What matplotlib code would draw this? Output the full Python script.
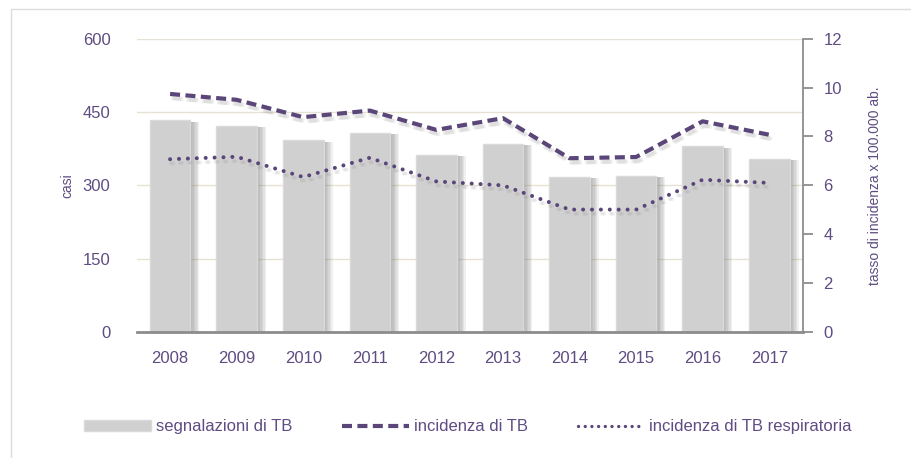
import numpy as np
import matplotlib.pyplot as plt
import matplotlib.patheffects as pe
from matplotlib.patches import Rectangle, Patch
from matplotlib.lines import Line2D

plt.rcParams['font.family'] = ['Liberation Sans', 'DejaVu Sans']

anni = ['2008', '2009', '2010', '2011', '2012', '2013', '2014', '2015', '2016', '2017']
segnalazioni = [433, 422, 392, 407, 363, 385, 317, 319, 380, 354]
incidenza = [9.74, 9.5, 8.79, 9.06, 8.27, 8.75, 7.11, 7.16, 8.62, 8.07]
incidenza_resp = [7.07, 7.17, 6.34, 7.13, 6.16, 6.0, 5.01, 5.01, 6.23, 6.1]

viola = '#5b4679'
testo = '#5e4c82'

fig = plt.figure(figsize=(9.12, 4.58), dpi=100)
fig.patches.append(Rectangle((0.012, -0.01), 1.2, 0.99, transform=fig.transFigure,
                             fill=False, edgecolor='#dcdcdc', lw=1))
ax = fig.add_axes([0.150, 0.275, 0.730, 0.6405])
ax2 = ax.twinx()
ax.set_zorder(1)
ax2.set_zorder(2)
ax.patch.set_visible(False)

x = np.arange(len(anni))
bars = ax.bar(x, segnalazioni, width=0.61, color='#d0d0d0', edgecolor='#dadada', lw=1, zorder=3)
# ombra sfumata a destra delle barre
ombra_barre = [pe.SimplePatchShadow(offset=(o, -1), shadow_rgbFace='#707070', alpha=0.1)
               for o in (1.5, 2.5, 3.5, 4.5, 5.5, 6.5)]
for b in bars:
    b.set_path_effects(ombra_barre + [pe.Normal()])

ax.set_ylim(0, 600)
ax.set_yticks([0, 150, 300, 450, 600])
ax.set_xlim(-0.5, len(anni) - 0.5)
ax.set_xticks(x)
ax.set_xticklabels(anni)
ax.grid(axis='y', color='#e6e2d3', lw=1, zorder=0)
ax.set_axisbelow(True)
for s in ['top', 'left', 'right']:
    ax.spines[s].set_visible(False)
ax.spines['bottom'].set_color('#8c8c8c')
ax.spines['bottom'].set_linewidth(2)
ax.spines['bottom'].set_zorder(4)
ax.tick_params(axis='y', length=0, pad=19, labelsize=12, labelcolor=testo)
ax.tick_params(axis='x', length=0, pad=14, labelsize=12, labelcolor=testo)
ax.set_ylabel('casi', color=testo, fontsize=10, labelpad=6)

ombra = [pe.SimpleLineShadow(offset=(o, -3), shadow_color='#909090', alpha=0.1)
         for o in (0.5, 1.5, 2.5)] + [pe.Normal()]
ax2.plot(x, incidenza, color=viola, lw=3.0, dashes=(2.4, 1.3), path_effects=ombra)
ax2.plot(x, incidenza_resp, color=viola, lw=2.9, dashes=(0.01, 2.2), dash_capstyle='round',
         path_effects=ombra)
ax2.set_ylim(0, 12)
ax2.set_yticks(range(0, 13, 2))
for s in ['top', 'left', 'bottom']:
    ax2.spines[s].set_visible(False)
ax2.spines['right'].set_color('#8c8c8c')
ax2.spines['right'].set_linewidth(1.3)
ax2.tick_params(axis='y', length=7, width=1.3, color='#8c8c8c', pad=8, labelsize=12, labelcolor=testo)
ax2.set_ylabel('tasso di incidenza x 100.000 ab.', color=testo, fontsize=10, labelpad=19)

handles = [Patch(facecolor='#d0d0d0', edgecolor='#dadada'),
           Line2D([], [], color=viola, lw=3.0, dashes=(2.4, 1.3)),
           Line2D([], [], color=viola, lw=2.4, dashes=(0.01, 2.0), dash_capstyle='round')]
labels = ['segnalazioni di TB', 'incidenza di TB', 'incidenza di TB respiratoria']
leg = fig.legend(handles, labels, loc='center', bbox_to_anchor=(0.513, 0.068), ncol=3,
                 frameon=False, fontsize=12, handlelength=4.0, handletextpad=0.3,
                 columnspacing=3.0)
for t in leg.get_texts():
    t.set_color(testo)

fig.savefig('out.png', dpi=100)
